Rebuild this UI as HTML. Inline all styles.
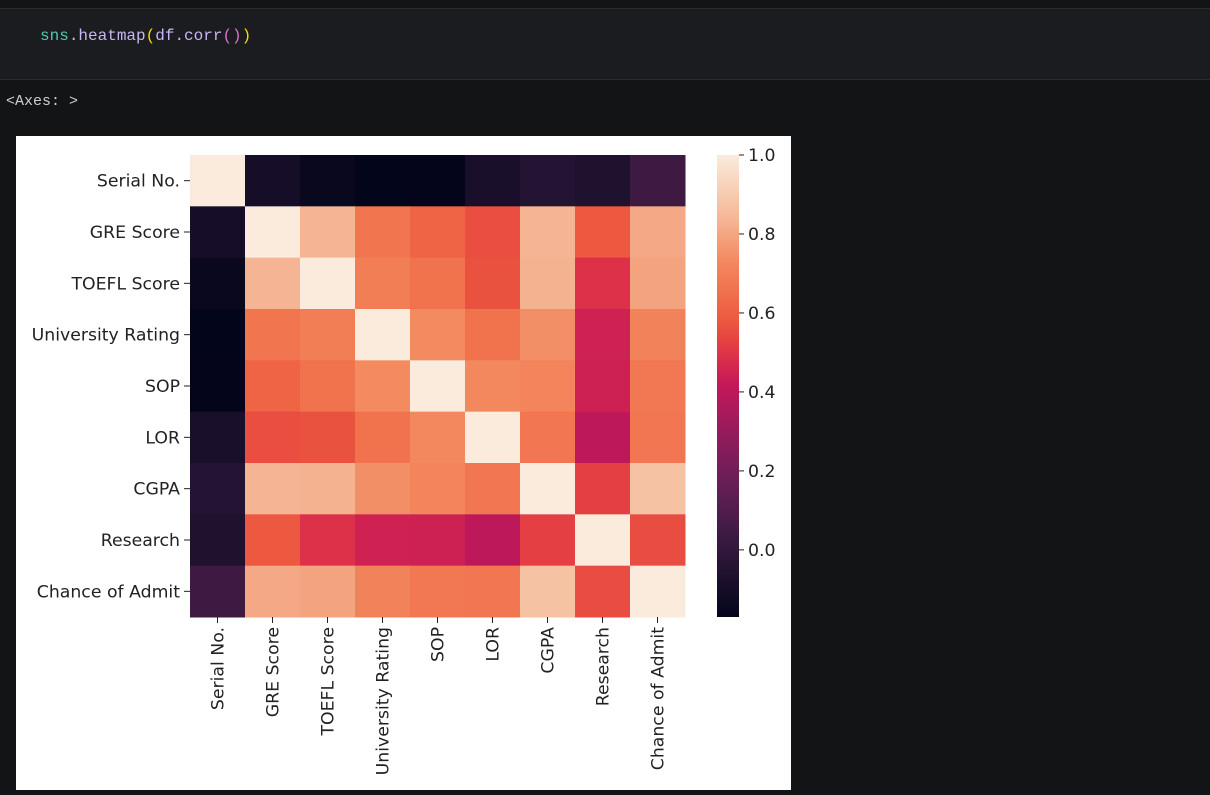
<!DOCTYPE html>
<html><head><meta charset="utf-8"><style>
body{margin:0;width:1210px;height:793px;background:#131416;overflow:hidden;position:relative;font-family:"Liberation Mono",monospace}
#cell{position:absolute;left:0;top:8px;width:1210px;height:70px;background:#1b1c1f;border-top:1px solid #2a2b2e;border-bottom:1px solid #2a2b2e}
#code{position:absolute;left:40px;top:18px;font-size:16px;color:#c9b6f2}
#out{position:absolute;left:6px;top:93px;font-size:15px;color:#cfcfcf}
#fig{position:absolute;left:16px;top:136px;width:775px;height:654px;background:#fff}
</style></head><body>
<div id="cell"><div id="code"><span style="color:#4ec9b0">sns</span>.heatmap<span style="color:#ffd700">(</span>df.corr<span style="color:#da70d6">()</span><span style="color:#ffd700">)</span></div></div>
<div id="out">&lt;Axes: &gt;</div>
<div id="fig">
<svg id="svg" width="775" height="654" xmlns="http://www.w3.org/2000/svg" font-family="DejaVu Sans, Liberation Sans, sans-serif" font-size="17.3"></svg>
</div>
<script>
const labels=["Serial No.","GRE Score","TOEFL Score","University Rating","SOP","LOR","CGPA","Research","Chance of Admit"];
const corr=[
[1,-0.098,-0.148,-0.170,-0.167,-0.088,-0.047,-0.063,0.042],
[-0.098,1,0.836,0.669,0.613,0.558,0.833,0.580,0.803],
[-0.148,0.836,1,0.696,0.658,0.568,0.828,0.490,0.792],
[-0.170,0.669,0.696,1,0.735,0.660,0.746,0.448,0.711],
[-0.167,0.613,0.658,0.735,1,0.730,0.718,0.444,0.676],
[-0.088,0.558,0.568,0.660,0.730,1,0.670,0.397,0.670],
[-0.047,0.833,0.828,0.746,0.718,0.670,1,0.522,0.873],
[-0.063,0.580,0.490,0.448,0.444,0.397,0.522,1,0.553],
[0.042,0.803,0.792,0.711,0.676,0.670,0.873,0.553,1]];
const cbTicks=[0.0,0.2,0.4,0.6,0.8,1.0];
const vmin=-0.17,vmax=1.0;
const stops=[[0,'#03051a'],[0.1,'#221331'],[0.2,'#451c47'],[0.3,'#6b1f56'],[0.4,'#951b5b'],[0.5,'#c3185a'],[0.55,'#d82a4c'],[0.6,'#e64340'],[0.65,'#ed5c40'],[0.7,'#f0704c'],[0.77,'#f3885e'],[0.85,'#f5b190'],[0.9,'#f6c5a8'],[1,'#faebdd']];
function hex(h){return [1,3,5].map(i=>parseInt(h.substr(i,2),16));}
function cmap(v){let t=Math.max(0,Math.min(1,(v-vmin)/(vmax-vmin)));for(let i=1;i<stops.length;i++){if(t<=stops[i][0]){const a=hex(stops[i-1][1]),b=hex(stops[i][1]);const f=(t-stops[i-1][0])/(stops[i][0]-stops[i-1][0]);return 'rgb('+a.map((x,k)=>Math.round(x+(b[k]-x)*f)).join(',')+')';}}return stops[stops.length-1][1];}
const svg=document.getElementById('svg');const NS='http://www.w3.org/2000/svg';
function el(t,a){const e=document.createElementNS(NS,t);for(const k in a)e.setAttribute(k,a[k]);svg.appendChild(e);return e;}
const X0=174,Y0=19,W=495,H=462,n=labels.length,cw=W/n,ch=H/n;
const xs=i=>X0+i*cw, ys=i=>Y0+i*ch;
for(let r=0;r<n;r++)for(let c=0;c<n;c++){const e=el('rect',{x:xs(c),y:ys(r),width:cw+0.5,height:ch+0.5,fill:cmap(corr[r][c])});

}
for(let i=0;i<n;i++){
const t=el('line',{x1:X0-6,x2:X0,y1:ys(i)+ch/2,y2:ys(i)+ch/2,stroke:'#222','stroke-width':1});

const l=el('text',{x:X0-10,y:ys(i)+ch/2+6,'text-anchor':'end',fill:'#222'});l.textContent=labels[i];

const tx=el('line',{x1:xs(i)+cw/2,x2:xs(i)+cw/2,y1:Y0+H,y2:Y0+H+6,stroke:'#222','stroke-width':1});

const cx=xs(i)+cw/2+6,cy=Y0+H+10;
const lx=el('text',{x:cx,y:cy,'text-anchor':'end',fill:'#222',transform:`rotate(-90 ${cx} ${cy})`});lx.textContent=labels[i];
}
const CX=701,CW=22;
const g=el('defs',{});const lg=document.createElementNS(NS,'linearGradient');lg.setAttribute('id','cb');lg.setAttribute('x1','0');lg.setAttribute('y1','1');lg.setAttribute('x2','0');lg.setAttribute('y2','0');g.appendChild(lg);
for(let i=0;i<=40;i++){const s=document.createElementNS(NS,'stop');s.setAttribute('offset',i/40);s.setAttribute('stop-color',cmap(vmin+(vmax-vmin)*i/40));lg.appendChild(s);}
const cb=el('rect',{x:CX,y:Y0,width:CW,height:H,fill:'url(#cb)'});

const cy=v=>Y0+H-(v-vmin)/(vmax-vmin)*H;
cbTicks.forEach(v=>{const t=el('line',{x1:CX+CW,x2:CX+CW+5,y1:cy(v),y2:cy(v),stroke:'#222'});

const l=el('text',{x:CX+CW+9,y:cy(v)+6,fill:'#222'});l.textContent=v.toFixed(1);
});
</script>
</body></html>
